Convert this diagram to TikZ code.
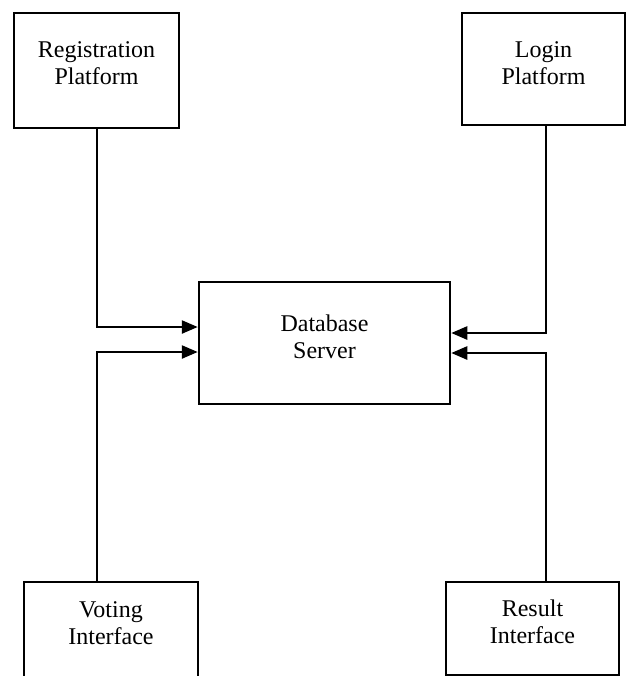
\documentclass[tikz,border=0pt]{standalone}
\usepackage{fontspec}
\setmainfont{Liberation Serif}
\usetikzlibrary{arrows.meta}
\begin{document}
\begin{tikzpicture}[x=0.5pt,y=-0.5pt,
  block/.style={draw, line width=1.25pt, rectangle, inner sep=0pt},
  caption/.style={align=center, font=\fontsize{12}{13.5}\selectfont, inner sep=0pt},
  feed/.style={line width=1.25pt, -{Triangle[length=8pt,width=6.5pt]}}]
\useasboundingbox (0,0) rectangle (628,676);
% boxes
\node[block, minimum width=82.5pt, minimum height=57.5pt] (reg) at (96.5,70.5) {};
\node[block, minimum width=81.5pt, minimum height=56pt] (login) at (543.5,69) {};
\node[block, minimum width=125.5pt, minimum height=61pt] (db) at (324.5,343) {};
\node[block, minimum width=87pt, minimum height=54pt] (vote) at (111,636) {};
\node[block, minimum width=86.5pt, minimum height=46.5pt] (res) at (532.5,628.5) {};
% labels
\node[caption] (regT) at (96.5,63) {Registration\\Platform};
\node[caption] (loginT) at (543.5,63) {Login\\Platform};
\node[caption] (dbT) at (324.5,336.5) {Database\\Server};
\node[caption] (voteT) at (111,623) {Voting\\Interface};
\node[caption] (resT) at (532.5,622) {Result\\Interface};
% connectors into the server
\draw[feed] ([xshift=0.25pt]reg.south) |- ([yshift=8pt]db.west);
\draw[feed] ([xshift=-7pt]vote.north) |- ([yshift=-4.5pt]db.west);
\draw[feed] ([xshift=1.25pt]login.south) |- ([yshift=5pt]db.east);
\draw[feed] ([xshift=6.75pt]res.north) |- ([yshift=-5pt]db.east);
\end{tikzpicture}
\end{document}
